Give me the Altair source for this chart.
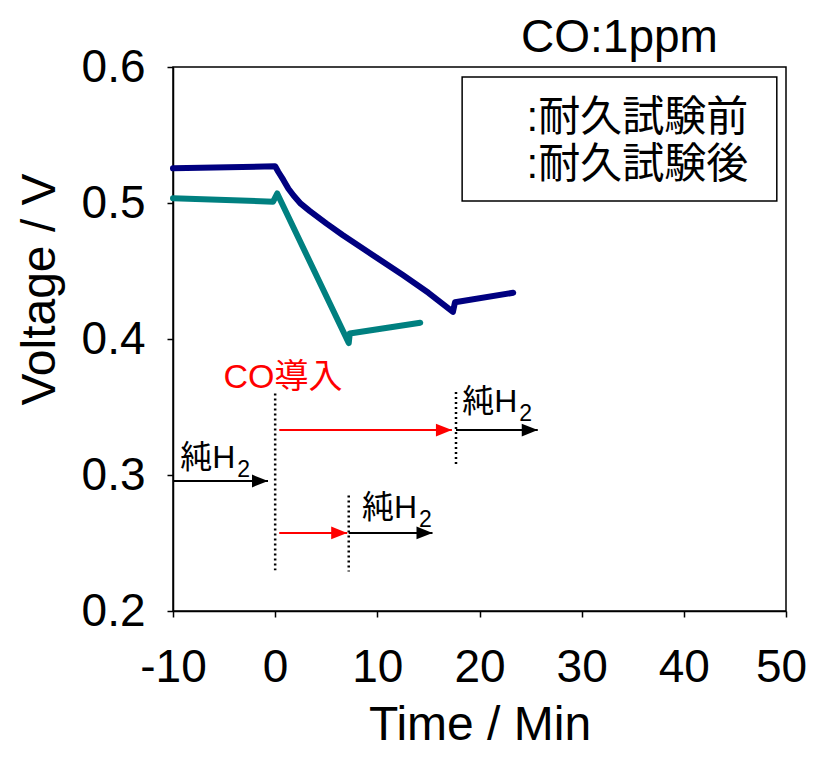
import altair as alt
import pandas as pd

# ---- data ----
series_names = ["耐久試験前", "耐久試験後"]
series_colors = ["#000080", "#008080"]

before_x = [-10, 0, 0.3, 0.8, 1.3, 1.8, 2.5, 3.4, 5.0, 6.6, 9.5, 12.5, 15.0, 17.4, 17.6, 23.3]
before_y = [0.5255, 0.527, 0.523, 0.517, 0.5105, 0.5055, 0.4995, 0.494, 0.485, 0.4765, 0.462, 0.447, 0.434, 0.420, 0.427, 0.434]

after_x = [-10, -0.2, 0.2, 7.2, 7.3, 14.2]
after_y = [0.5035, 0.501, 0.507, 0.397, 0.404, 0.412]

x_ticks = [-10, 0, 10, 20, 30, 40, 50]
y_ticks = [0.2, 0.3, 0.4, 0.5, 0.6]

# dotted marker lines (x, y from, y to)
dot_x = [0, 7.2, 17.7]
dot_y1 = [0.360, 0.285, 0.361]
dot_y2 = [0.230, 0.229, 0.306]

# arrows (start x, end x, y, colour)
arr_x1 = [-10, 0.4, 17.7, 0.4, 7.2]
arr_x2 = [-0.7, 17.3, 25.7, 7.05, 15.4]
arr_y = [0.2956, 0.333, 0.333, 0.2574, 0.2574]
arr_col = ["black", "red", "black", "red", "black"]

# 純H2 labels
h2_x = [-9.3, 18.3, 8.5]
h2_y = [0.3125, 0.3537, 0.2757]

# legend box and entries
leg_box_x = [18.3, 49.1]
leg_box_y = [0.5926, 0.5015]
leg_text_x = 24.6
leg_text_y = [0.5625, 0.528]

co_label = ("CO導入", 0.76, 0.3713)
title_label = ("CO:1ppm", 33.7, 0.6213)

FONT = "Liberation Sans, Arial, Noto Sans CJK JP"

rows = []
for n, xs, ys in [(series_names[0], before_x, before_y), (series_names[1], after_x, after_y)]:
    for i, (a, b) in enumerate(zip(xs, ys)):
        rows.append({"series": n, "order": i, "x": a, "y": b})
df_lines = pd.DataFrame(rows)

xscale = alt.Scale(domain=[-10, 50], nice=False, zero=False)
yscale = alt.Scale(domain=[0.2, 0.6], nice=False, zero=False)

X = lambda f="x": alt.X(f"{f}:Q", scale=xscale,
                        axis=alt.Axis(values=x_ticks, title="Time / Min", labelFlush=False,
                                      labelOffset=alt.condition("datum.value == 50", alt.value(-5), alt.value(0)),
                                      labelExpr="'' + datum.value"))
Y = lambda f="y": alt.Y(f"{f}:Q", scale=yscale,
                        axis=alt.Axis(values=y_ticks, title="Voltage / V", labelFlush=False,
                                      titleX=-133, titleY=222, titleBaseline="middle",
                                      titleAngle=270, titleAlign="center",
                                      labelExpr="format(datum.value, '.1f')"))

lines = alt.Chart(df_lines).mark_line(strokeWidth=6, strokeCap="round", strokeJoin="round").encode(
    x=X(), y=Y(),
    color=alt.Color("series:N", scale=alt.Scale(domain=series_names, range=series_colors), legend=None),
    order="order:Q",
)

df_dot = pd.DataFrame({"x": dot_x, "y": dot_y1, "y2": dot_y2})
dots = alt.Chart(df_dot).mark_rule(strokeDash=[2, 3], strokeWidth=2.5, color="black").encode(
    x=X(), y=Y(), y2="y2:Q")

df_arr = pd.DataFrame({"x": arr_x1, "x2": arr_x2, "y": arr_y, "c": arr_col})
arr_lines = alt.Chart(df_arr).mark_rule(strokeWidth=2).encode(
    x=X(), x2="x2:Q", y=Y(), color=alt.Color("c:N", scale=None))
heads = alt.Chart(df_arr).mark_point(
    shape="M0,0 L-2,-0.8 L-2,0.8 Z", filled=True, size=256, opacity=1, strokeWidth=0
).encode(x=X("x2"), y=Y(), color=alt.Color("c:N", scale=None))

df_h2 = pd.DataFrame({"x": h2_x, "y": h2_y})
h2_main = alt.Chart(df_h2).mark_text(text="純H", align="left", baseline="middle",
                                     fontSize=32, font=FONT, color="black").encode(x=X(), y=Y())
h2_sub = alt.Chart(df_h2).mark_text(text="2", align="left", baseline="middle",
                                    fontSize=23, font=FONT, color="black", dx=57, dy=12).encode(x=X(), y=Y())

df_box = pd.DataFrame({"x": [leg_box_x[0]], "x2": [leg_box_x[1]], "y": [leg_box_y[0]], "y2": [leg_box_y[1]]})
box = alt.Chart(df_box).mark_rect(fill="white", stroke="black", strokeWidth=1.5).encode(
    x=X(), x2="x2:Q", y=Y(), y2="y2:Q")

df_leg = pd.DataFrame({"x": [leg_text_x] * 2, "y": leg_text_y, "t": [":" + s for s in series_names]})
leg_text = alt.Chart(df_leg).mark_text(align="left", baseline="middle", fontSize=42,
                                       font=FONT, color="black").encode(x=X(), y=Y(), text="t:N")

df_co = pd.DataFrame({"x": [co_label[1]], "y": [co_label[2]], "t": [co_label[0]]})
co_text = alt.Chart(df_co).mark_text(align="center", baseline="middle", fontSize=34,
                                     font=FONT, color="red").encode(x=X(), y=Y(), text="t:N")

df_tt = pd.DataFrame({"x": [title_label[1]], "y": [title_label[2]], "t": [title_label[0]]})
tt_text = alt.Chart(df_tt).mark_text(align="center", baseline="middle", fontSize=46,
                                     font=FONT, color="black").encode(x=X(), y=Y(), text="t:N")

chart = alt.layer(lines, dots, arr_lines, heads, h2_main, h2_sub, box, leg_text, co_text, tt_text).properties(
    width=613, height=544,
    autosize=alt.AutoSizeParams(type="none"),
    padding={"left": 165, "top": 59, "right": 22, "bottom": 138},
).configure_view(stroke="black", strokeWidth=1.5).configure_axis(
    grid=False, domainColor="black", tickColor="black", labelColor="black", titleColor="black",
    labelFont="Liberation Sans", titleFont="Liberation Sans", labelFontSize=46, titleFontSize=48,
    titleFontWeight="normal", tickSize=6, domainWidth=1.5, tickWidth=1.5,
).configure_axisX(labelPadding=28, titlePadding=11).configure_axisY(labelPadding=22)

chart.save("out.html", embed_options={"renderer": "svg", "actions": False})
